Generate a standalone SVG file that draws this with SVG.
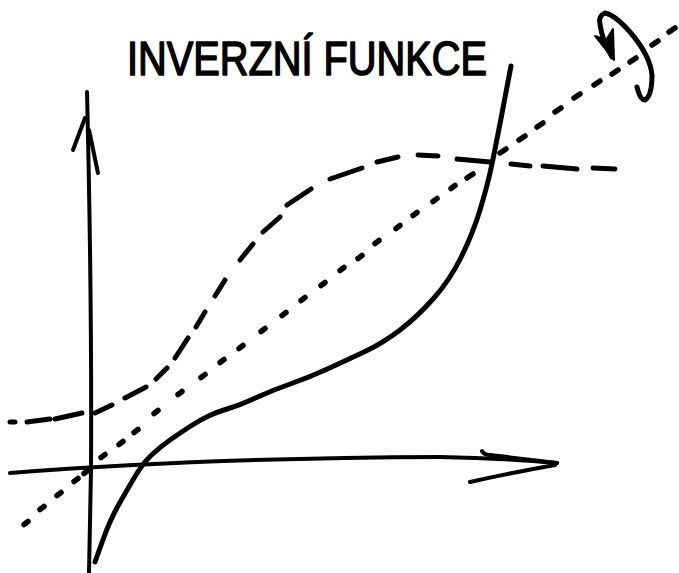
<svg xmlns="http://www.w3.org/2000/svg" width="679" height="573" viewBox="0 0 679 573">
<style>
.ink{fill:none;stroke:#000;stroke-linecap:round;stroke-linejoin:round}
.axis{stroke-width:4}
.curve{stroke-width:5}
.dash{stroke-width:5}
.dot{stroke-width:5.5}
.title{font-family:"Liberation Sans",Arial,sans-serif;font-size:48px;fill:#000;stroke:#000;stroke-width:1.6;stroke-linejoin:round}
</style>
<rect width="679" height="573" fill="#fff"/>
<g id="title">
<text class="title" x="127" y="75" textLength="360" lengthAdjust="spacingAndGlyphs">INVERZNÍ FUNKCE</text>
</g>
<g id="connectors">
<g id="y-axis">
<path class="ink axis" d="M87,92 Q92,300 91,470 Q90,530 89,573"/>
<path class="ink axis" d="M85,118 L73,150 M89,130 L98,173"/>
</g>
<g id="x-axis">
<path class="ink axis" d="M10,473 Q200,458 440,457 Q500,458 557,463"/>
<path class="ink axis" d="M482,451 Q484,455 490,455 L557,463 M470,482 Q510,473 555,465"/>
</g>
<g id="function">
<path class="ink curve" d="M95,562 L102.5,541 Q110,520 118.5,505 Q127,490 135,476.5 Q143,463 151.5,455 Q160,447 170,440 Q180,433 190,426.5 Q200,420 208.5,416 Q217,412 228.5,408.5 Q240,405 256.5,397.5 Q273,390 291.5,383.5 Q310,377 328.5,368.5 Q347,360 365,351.5 Q383,343 400,330 Q417,317 433.5,298.5 Q450,280 461.5,256.5 Q473,233 480,210 Q487,187 491,168.5 Q495,150 503,108 L511,66"/>
</g>
<g id="inverse">
<path class="ink dash" d="M10,422 L15,422 M27,422 L50,419 M55,419 L82,413 M95,413 L112,405 M125,398 L146,387 M156,379 L167,368 M175,358 L188,338 M196,327 L205,312 M215,296 L225,280 M240,260 L253,244 M263,232 L280,217 M287,205 L311,189 M330,179 L362,168 M377,162 L398,157 M418,155 L438,156 M457,159 L490,162 M511,164 L530,166 M543,166 L577,169 M593,168 L615,169"/>
</g>
<g id="diagonal">
<path class="ink dot" d="M24,524.5 l4,-3 M40,509.5 l4,-3 M57,495.5 l4,-3 M74,481.5 l4,-3 M84,473.5 l4,-3 M101,457.5 l4,-3 M119,444.5 l4,-3 M134,432.5 l4,-3 M154,413.5 l4,-3 M178,394.5 l4,-3 M201,377.5 l4,-3 M220,362.5 l4,-3 M239,348.5 l4,-3 M261,331.5 l4,-3 M282,315.5 l4,-3 M301,300.5 l4,-3 M321,285.5 l4,-3 M340,270.5 l4,-3 M358,258.5 l4,-3 M375,243.5 l4,-3 M396,228.5 l4,-3 M413,215.5 l4,-3 M433,201.5 l4,-3 M451,188.5 l4,-3 M467,178 l6,-4 M500,153 l6,-4 M519,140 l6,-4 M537,127 l6,-4 M555,112 l6,-4 M574,98 l6,-4 M594,85 l6,-4 M612,74 l6,-4 M630,62 l6,-4 M652,45 l6,-4 M669,32 l6,-4"/>
</g>
<g id="rotation">
<path class="ink curve" d="M637,87 Q640,100 645,100 Q652,96 652,75 Q650,55 630,32 Q615,15 605,13 Q598,16 600,24 Q602,40 612,57"/>
<path d="M595,36 L606,40 L613,29 L614,60 Z" fill="#000" stroke="#000" stroke-width="2" stroke-linejoin="round"/>
</g>
</g>
</svg>
